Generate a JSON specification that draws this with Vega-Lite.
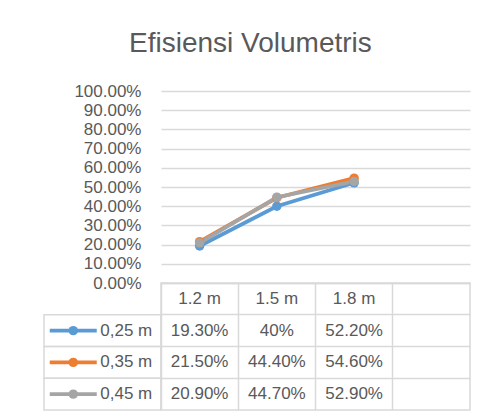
{
  "$schema": "https://vega.github.io/schema/vega-lite/v6.json",
  "padding": {"left": 42, "top": 30, "right": 10, "bottom": 5},
  "background": "white",
  "title": {"text": "Efisiensi Volumetris", "font": "Liberation Sans", "fontSize": 28, "fontWeight": "normal", "color": "#595959", "anchor": "middle", "frame": "bounds", "offset": 24, "dx": -6},
  "datasets": {
    "eff": [
      {"series": "0,25 m", "dist": "1.2 m", "value": 0.193, "label": "19.30%"},
      {"series": "0,25 m", "dist": "1.5 m", "value": 0.40, "label": "40%"},
      {"series": "0,25 m", "dist": "1.8 m", "value": 0.522, "label": "52.20%"},
      {"series": "0,35 m", "dist": "1.2 m", "value": 0.215, "label": "21.50%"},
      {"series": "0,35 m", "dist": "1.5 m", "value": 0.444, "label": "44.40%"},
      {"series": "0,35 m", "dist": "1.8 m", "value": 0.546, "label": "54.60%"},
      {"series": "0,45 m", "dist": "1.2 m", "value": 0.209, "label": "20.90%"},
      {"series": "0,45 m", "dist": "1.5 m", "value": 0.447, "label": "44.70%"},
      {"series": "0,45 m", "dist": "1.8 m", "value": 0.529, "label": "52.90%"}
    ]
  },
  "columns": 2,
  "spacing": 0,
  "bounds": "flush",
  "align": "each",
  "concat": [
    {
      "width": 117, "height": 192,
      "data": {"values": []},
      "mark": {"type": "point"},
      "encoding": {}
    },
    {
      "width": 309, "height": 192,
      "data": {"name": "eff"},
      "mark": {"type": "line", "strokeWidth": 3.8, "point": {"filled": true, "size": 90, "opacity": 1}},
      "encoding": {
        "x": {"field": "dist", "type": "ordinal", "scale": {"type": "point", "domain": ["1.2 m", "1.5 m", "1.8 m", " "], "padding": 0.5}, "axis": null},
        "y": {"field": "value", "type": "quantitative", "scale": {"domain": [0, 1], "nice": false},
          "axis": {"values": [0, 0.1, 0.2, 0.3, 0.4, 0.5, 0.6, 0.7, 0.8, 0.9, 1], "format": ".2%", "title": null, "ticks": false, "domain": false, "grid": true, "gridColor": "#d9d9d9", "gridWidth": 1.3, "labelPadding": 20, "labelFontSize": 17, "labelColor": "#595959", "labelFont": "Liberation Sans"}},
        "color": {"field": "series", "type": "nominal", "scale": {"domain": ["0,25 m", "0,35 m", "0,45 m"], "range": ["#5B9BD5", "#ED7D31", "#A5A5A5"]}, "legend": null}
      }
    },
    {
      "width": 117, "height": 127,
      "data": {"name": "eff"},
      "transform": [{"filter": "datum.dist === '1.2 m'"}],
      "encoding": {
        "y": {"field": "series", "type": "nominal", "scale": {"type": "band", "domain": ["hdr", "0,25 m", "0,35 m", "0,45 m"], "paddingInner": 0, "paddingOuter": 0}, "axis": null}
      },
      "layer": [
        {"mark": {"type": "rect", "fill": "transparent", "stroke": "#d9d9d9", "strokeWidth": 1.5}},
        {"mark": {"type": "point", "shape": "M-1,0L1,0", "size": 2209, "filled": false, "strokeWidth": 3.8, "opacity": 1},
          "encoding": {
            "x": {"datum": "sym", "type": "nominal", "scale": {"type": "point", "domain": ["sym", "lab"], "padding": 0.5}, "axis": null},
            "color": {"field": "series", "type": "nominal", "legend": null}
          }},
        {"mark": {"type": "circle", "size": 90, "opacity": 1},
          "encoding": {
            "x": {"datum": "sym", "type": "nominal"},
            "color": {"field": "series", "type": "nominal", "legend": null}
          }},
        {"mark": {"type": "text", "align": "left", "baseline": "middle", "dx": 27, "fontSize": 17, "color": "#595959", "font": "Liberation Sans"},
          "encoding": {
            "x": {"datum": "sym", "type": "nominal"},
            "text": {"field": "series"}
          }}
      ]
    },
    {
      "width": 309, "height": 127,
      "data": {"name": "eff"},
      "view": {"stroke": "#d9d9d9", "strokeWidth": 1.5},
      "layer": [
        {"mark": {"type": "text", "align": "center", "baseline": "middle", "fontSize": 17, "color": "#595959", "font": "Liberation Sans"},
          "encoding": {
            "x": {"field": "dist", "type": "nominal", "scale": {"type": "band", "domain": ["1.2 m", "1.5 m", "1.8 m", " "], "paddingInner": 0, "paddingOuter": 0},
              "axis": {"bandPosition": 0, "labels": false, "ticks": false, "domain": false, "title": null, "grid": true, "gridColor": "#d9d9d9", "gridWidth": 1.5}},
            "y": {"field": "series", "type": "nominal", "scale": {"type": "band", "domain": ["hdr", "0,25 m", "0,35 m", "0,45 m"], "paddingInner": 0, "paddingOuter": 0},
              "axis": {"bandPosition": 0, "labels": false, "ticks": false, "domain": false, "title": null, "grid": true, "gridColor": "#d9d9d9", "gridWidth": 1.5}},
            "text": {"field": "label"}
          }},
        {"transform": [{"filter": "datum.series === '0,25 m'"}],
          "mark": {"type": "text", "align": "center", "baseline": "middle", "fontSize": 17, "color": "#595959", "font": "Liberation Sans"},
          "encoding": {
            "x": {"field": "dist", "type": "nominal"},
            "y": {"datum": "hdr", "type": "nominal"},
            "text": {"field": "dist"}
          }}
      ]
    }
  ],
  "config": {"view": {"stroke": null}, "font": "Liberation Sans"}
}
